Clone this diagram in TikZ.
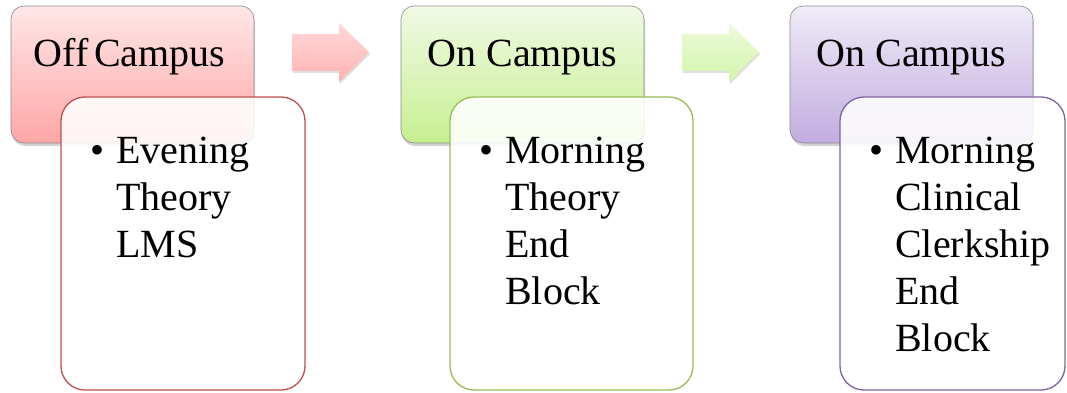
\documentclass[tikz,border=0pt]{standalone}
\usepackage{fontspec}
\setmainfont{Liberation Serif}
\usetikzlibrary{shadows}
\definecolor{redA}{HTML}{FEE7E7}
\definecolor{redB}{HTML}{FFA6A6}
\definecolor{redL}{HTML}{C0504D}
\definecolor{grnA}{HTML}{F1FAE5}
\definecolor{grnB}{HTML}{C6EF90}
\definecolor{grnL}{HTML}{9BBB59}
\definecolor{purA}{HTML}{EFEBF7}
\definecolor{purB}{HTML}{C1ADE0}
\definecolor{purL}{HTML}{8064A2}
\definecolor{arrRA}{HTML}{FFD8D8}
\definecolor{arrRB}{HTML}{FFB2B2}
\definecolor{arrGA}{HTML}{EDFADC}
\definecolor{arrGB}{HTML}{D2F5AA}
\tikzset{
  topbox/.style={draw=gray!90, line width=0.6pt, rounded corners=13pt,
    minimum width=243pt, minimum height=137pt, inner sep=0pt,
    drop shadow={shadow xshift=1pt, shadow yshift=-3pt, opacity=0.35}},
  bodybox/.style={fill=white, fill opacity=0.88, line width=1.3pt, rounded corners=24pt,
    minimum height=293pt, inner sep=0pt},
  lbl/.style={font=\fontsize{40}{47}\selectfont, anchor=base, inner sep=0pt},
  bodytxt/.style={font=\fontsize{40}{47}\selectfont, anchor=north west, align=left, inner sep=0pt},
  bul/.style={font=\fontsize{40}{47}\selectfont, anchor=base west, inner sep=0pt},
  flow/.style={drop shadow={shadow xshift=1pt, shadow yshift=-2pt, opacity=0.25}}
}
\begin{document}
\begin{tikzpicture}[x=1pt,y=-1pt]
\useasboundingbox (0,0) rectangle (1067,393);
% top boxes
\node[topbox, top color=redA, bottom color=redB] (t1) at (132.5,74.5) {};
\node[topbox, top color=grnA, bottom color=grnB] (t2) at (522.5,74.5) {};
\node[topbox, top color=purA, bottom color=purB] (t3) at (911.5,74.5) {};
\node[lbl] (l1) at (129.5,67) {Off\hspace{-4pt} Campus};
\node[lbl] (l2) at (522.5,67) {On Campus};
\node[lbl] (l3) at (911.5,67) {On Campus};
% arrows
\shade[flow, top color=arrRA, bottom color=arrRB]
  (292,34) -- (339,34) -- (339,23) -- (369,52) -- (339,82) -- (339,71) -- (292,71) -- cycle;
\shade[flow, top color=arrGA, bottom color=arrGB]
  (682,34) -- (729,34) -- (729,23) -- (759,52) -- (729,82) -- (729,71) -- (682,71) -- cycle;
% body boxes
\node[bodybox, draw=redL, minimum width=244pt] (b1) at (183,243.5) {};
\node[bodybox, draw=grnL, minimum width=243pt] (b2) at (571.5,243.5) {};
\node[bodybox, draw=purL, minimum width=225pt] (b3) at (952.5,243.5) {};
% body text
\node[bul] (u1) at (90,163) {•};
\node[bodytxt] (x1) at (116,136.5) {Evening\\Theory\\LMS};
\node[bul] (u2) at (479,163) {•};
\node[bodytxt] (x2) at (505,136.5) {Morning\\Theory\\End\\Block};
\node[bul] (u3) at (869,163) {•};
\node[bodytxt] (x3) at (895,136.5) {Morning\\Clinical\\Clerkship\\End\\Block};
\end{tikzpicture}
\end{document}
